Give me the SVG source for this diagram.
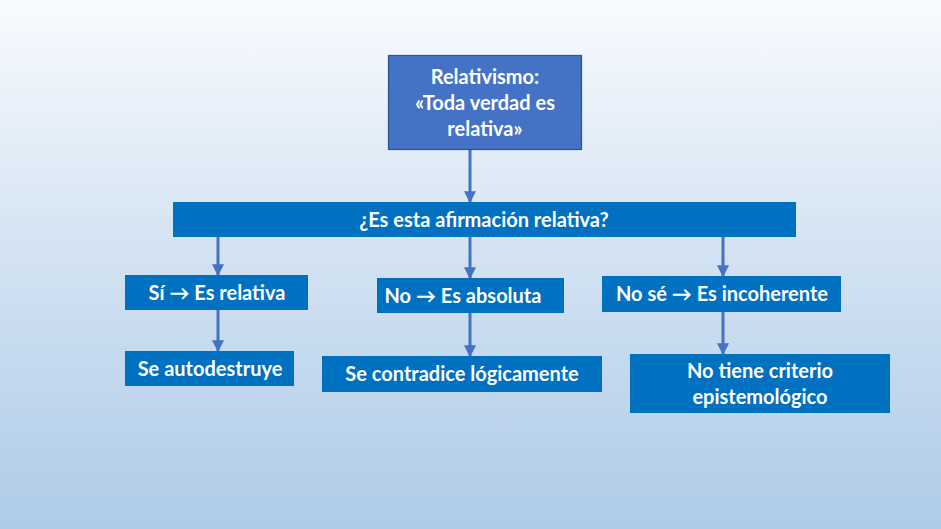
<svg xmlns="http://www.w3.org/2000/svg" width="941" height="529" viewBox="0 0 941 529">
<defs>
<linearGradient id="bg" x1="0" y1="0" x2="0" y2="1">
<stop offset="0" stop-color="#f8fbfe"/>
<stop offset="0.45" stop-color="#d5e4f3"/>
<stop offset="1" stop-color="#aecbe8"/>
</linearGradient>
<marker id="ah" viewBox="0 0 10 10" refX="9" refY="5" markerWidth="4" markerHeight="4" orient="auto" markerUnits="strokeWidth">
<path d="M0,0 L10,5 L0,10 z" fill="#4472C4"/>
</marker>
<style>
.box{fill:#0070C0;}
.top{fill:#4472C4;stroke:#2F528F;stroke-width:1.2;}
.t{font-family:Lato,"Open Sans","Liberation Sans",sans-serif;font-weight:bold;font-size:20px;fill:#ffffff;text-anchor:middle;}
.c{stroke:#4472C4;stroke-width:3;fill:none;marker-end:url(#ah);}
</style>
</defs>
<rect width="941" height="529" fill="url(#bg)"/>
<g id="connectors">
<line class="c" x1="470" y1="149" x2="470" y2="202"/>
<line class="c" x1="218" y1="237" x2="218" y2="275"/>
<line class="c" x1="470" y1="237" x2="470" y2="278"/>
<line class="c" x1="723" y1="237" x2="723" y2="276"/>
<line class="c" x1="218" y1="310" x2="218" y2="351"/>
<line class="c" x1="470" y1="313" x2="470" y2="356"/>
<line class="c" x1="723" y1="312" x2="723" y2="354"/>
</g>
<g id="n-relativismo">
<rect class="top" x="388.5" y="55.5" width="193" height="94"/>
<text class="t" x="485" y="84">Relativismo:</text>
<text class="t" x="485" y="110">«Toda verdad es</text>
<text class="t" x="485" y="136">relativa»</text>
</g>
<g id="n-pregunta">
<rect class="box" x="173" y="202" width="623" height="35"/>
<text class="t" x="484" y="227">¿Es esta afirmación relativa?</text>
</g>
<g id="n-si">
<rect class="box" x="125" y="275" width="183" height="35"/>
<text class="t" x="217" y="300">Sí → Es relativa</text>
</g>
<g id="n-no">
<rect class="box" x="377" y="278" width="187" height="35"/>
<text class="t" x="463" y="303">No → Es absoluta</text>
</g>
<g id="n-nose">
<rect class="box" x="602" y="276" width="239" height="36"/>
<text class="t" x="722" y="301">No sé → Es incoherente</text>
</g>
<g id="n-autodestruye">
<rect class="box" x="125" y="351" width="169" height="35"/>
<text class="t" x="210" y="376">Se autodestruye</text>
</g>
<g id="n-contradice">
<rect class="box" x="322" y="356" width="280" height="36"/>
<text class="t" x="462" y="381">Se contradice lógicamente</text>
</g>
<g id="n-criterio">
<rect class="box" x="630" y="354" width="260" height="59"/>
<text class="t" x="760" y="378">No tiene criterio</text>
<text class="t" x="760" y="404">epistemológico</text>
</g>
</svg>
